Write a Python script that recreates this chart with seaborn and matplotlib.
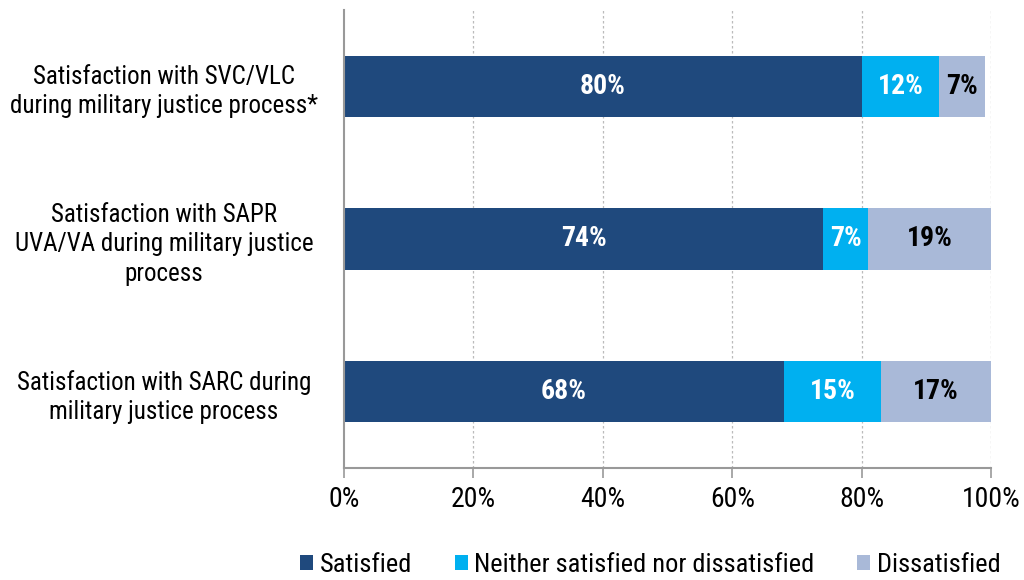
import matplotlib
matplotlib.use("Agg")
import matplotlib.pyplot as plt
import matplotlib.font_manager as fm
import seaborn as sns
import pandas as pd
import numpy as np
from matplotlib.patches import Patch

categories = [
    "Satisfaction with SVC/VLC\nduring military justice process*",
    "Satisfaction with SAPR\nUVA/VA during military justice\nprocess",
    "Satisfaction with SARC during\nmilitary justice process",
]
satisfied = [80, 74, 68]
neither = [12, 7, 15]
dissatisfied = [7, 19, 17]
series_names = ["Satisfied", "Neither satisfied nor dissatisfied", "Dissatisfied"]
colors = ["#1F497D", "#00B0F0", "#A9B9D8"]
label_colors = ["white", "white", "black"]
xticks = [0, 20, 40, 60, 80, 100]
xtick_labels = ["0%", "20%", "40%", "60%", "80%", "100%"]

sns.set_theme(style="white")
names = {f.name for f in fm.fontManager.ttflist}
fam = None
for cand in ["Liberation Sans Narrow", "Arial Narrow", "Roboto Condensed", "Open Sans Condensed"]:
    if cand in names:
        fam = cand
        break
if fam is None:
    fam = "Liberation Sans"
    ylab_fs, tick_fs, bar_fs, leg_fs = 16, 17, 17, 17
else:
    ylab_fs, tick_fs, bar_fs, leg_fs = 18, 20, 20, 19
plt.rcParams["font.family"] = [fam, "DejaVu Sans"]
plt.rcParams["text.color"] = "black"

fig = plt.figure(figsize=(10.24, 5.8), dpi=100)
ax = fig.add_axes([0.336, 0.193, 0.632, 0.790])

df = pd.DataFrame({"cat": categories, "s": satisfied, "n": neither, "d": dissatisfied})
df["c1"] = df["s"]
df["c2"] = df["s"] + df["n"]
df["c3"] = df["s"] + df["n"] + df["d"]

for col, colr in zip(["c3", "c2", "c1"], colors[::-1]):
    sns.barplot(data=df, x=col, y="cat", orient="h", color=colr, width=0.4,
                ax=ax, saturation=1, edgecolor="none", zorder=3)

for i in range(len(categories)):
    left = 0
    for vals, lc in zip([satisfied, neither, dissatisfied], label_colors):
        v = vals[i]
        ax.text(left + v / 2, i, f"{v}%", ha="center", va="center",
                color=lc, fontsize=bar_fs, fontweight="bold", zorder=5)
        left += v

ax.set_xlim(0, 100)
ax.set_ylim(2.5, -0.5)
ax.set_xticks(xticks)
ax.set_xticklabels(xtick_labels, fontsize=tick_fs)
ax.set_yticks(range(len(categories)))
ax.set_yticklabels(categories, fontsize=ylab_fs, ha="center", linespacing=1.3)
pad_pts = (344 - 164) * 72 / 100
ax.tick_params(axis="y", length=0, pad=pad_pts, labelcolor="black")
ax.tick_params(axis="x", direction="out", length=7, width=1.2, color="#999999",
               bottom=True, pad=6, labelcolor="black")
ax.set_xlabel("")
ax.set_ylabel("")
for x in xticks[1:]:
    ax.axvline(x, color="#BBBBBB", linestyle=(0, (2, 2)), linewidth=0.9, zorder=1)
for s in ["top", "right"]:
    ax.spines[s].set_visible(False)
for s in ["left", "bottom"]:
    ax.spines[s].set_color("#999999")
    ax.spines[s].set_linewidth(1.5)
    ax.spines[s].set_zorder(4)

handles = [Patch(facecolor=c, edgecolor="none") for c in colors]
fig.legend(handles, series_names, loc="lower center", bbox_to_anchor=(0.635, -0.035),
           ncol=3, frameon=False, fontsize=leg_fs, handlelength=0.5, handleheight=0.5,
           handletextpad=0.25, columnspacing=1.6)

fig.savefig("out.png", dpi=100)
